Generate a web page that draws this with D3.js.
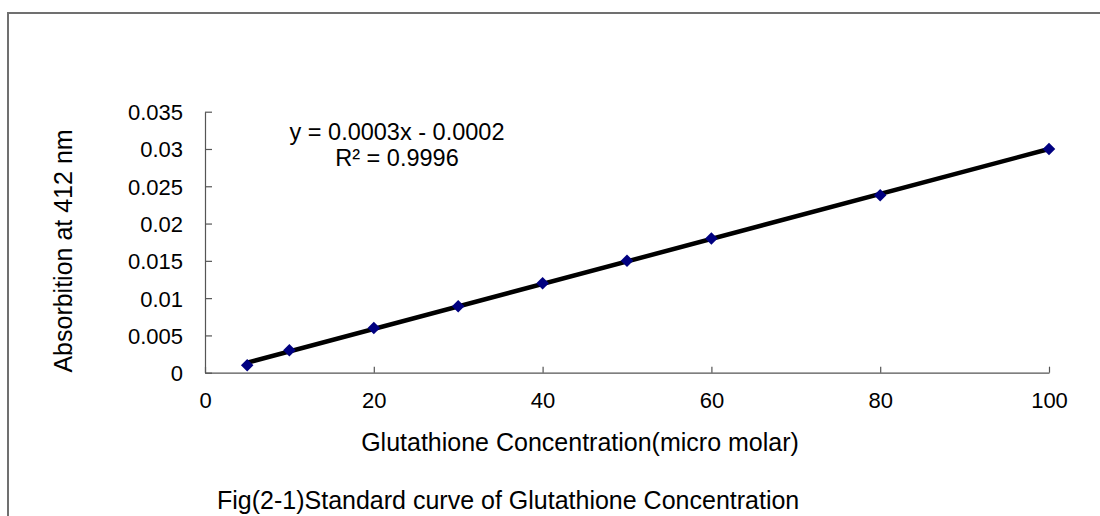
<!DOCTYPE html>
<html>
<head>
<meta charset="utf-8">
<script src="https://cdn.jsdelivr.net/npm/d3@7/dist/d3.min.js"></script>
<style>
  html, body { margin: 0; padding: 0; background: #fff; }
  svg { display: block; }
  text { font-family: "Liberation Sans", Arial, Helvetica, sans-serif; fill: #000; }
</style>
</head>
<body>
<svg id="chart" width="1100" height="516"></svg>
<script>
// ---- data ----
const concentration = [5, 10, 20, 30, 40, 50, 60, 80, 100];
const absorbance = [0.001, 0.003, 0.006, 0.0089, 0.012, 0.015, 0.018, 0.0238, 0.030];
const xTicks = [0, 20, 40, 60, 80, 100];
const yTicks = [0, 0.005, 0.01, 0.015, 0.02, 0.025, 0.03, 0.035];
const equationLines = ["y = 0.0003x - 0.0002", "R\u00b2 = 0.9996"];
const xTitle = "Glutathione Concentration(micro molar)";
const yTitle = "Absorbition at 412 nm";
const caption = "Fig(2-1)Standard curve of Glutathione Concentration";

// ---- layout ----
const svg = d3.select("#chart");
const plot = { left: 205, right: 1049, top: 111.7, bottom: 372.7 };
const x = d3.scaleLinear().domain([0, 100]).range([plot.left, plot.right]);
const y = d3.scaleLinear().domain([0, 0.035]).range([plot.bottom, plot.top]);
const tickFs = 22, titleFs = 25, eqFs = 23.5;

// outer frame (top + left edge)
svg.append("path")
  .attr("d", "M8,516 L8,13 L1100,13")
  .attr("fill", "none").attr("stroke", "#707070").attr("stroke-width", 2);

// axes
const xAxis = svg.append("g").attr("transform", `translate(0,${plot.bottom})`)
  .call(d3.axisBottom(x).tickValues(xTicks).tickSize(-6).tickSizeOuter(0).tickPadding(0).tickFormat(d3.format("d")));
const yAxis = svg.append("g").attr("transform", `translate(${plot.left},0)`)
  .call(d3.axisLeft(y).tickValues(yTicks).tickSize(-7).tickSizeOuter(0).tickPadding(0).tickFormat(d => d === 0 ? "0" : String(+d.toFixed(3))));
[xAxis, yAxis].forEach(g => {
  g.select(".domain").attr("stroke", "#555").attr("stroke-width", 1.2);
  g.selectAll(".tick line").attr("stroke", "#555").attr("stroke-width", 1.2);
  g.selectAll(".tick text").attr("font-size", tickFs).attr("fill", "#000")
    .attr("font-family", '"Liberation Sans", Arial, sans-serif');
});
xAxis.selectAll(".tick text").attr("y", 35.5).attr("dy", null);
yAxis.selectAll(".tick text").attr("x", -22).attr("dy", "0.36em");

// trend line (least squares fit)
const n = concentration.length;
const mx = d3.mean(concentration), my = d3.mean(absorbance);
let sxy = 0, sxx = 0;
for (let i = 0; i < n; i++) {
  sxy += (concentration[i] - mx) * (absorbance[i] - my);
  sxx += (concentration[i] - mx) ** 2;
}
const slope = sxy / sxx, intercept = my - slope * mx;
const xExt = d3.extent(concentration);
svg.append("line")
  .attr("x1", x(xExt[0])).attr("y1", y(slope * xExt[0] + intercept))
  .attr("x2", x(xExt[1])).attr("y2", y(slope * xExt[1] + intercept))
  .attr("stroke", "#000").attr("stroke-width", 4.5);

// markers (diamonds)
const diamond = d3.symbol().type(d3.symbolDiamond2).size(100);
svg.append("g").selectAll("path")
  .data(concentration.map((c, i) => [c, absorbance[i]]))
  .join("path")
  .attr("d", diamond)
  .attr("transform", d => `translate(${x(d[0])},${y(d[1])})`)
  .attr("fill", "#000080");

// equation (two separate lines)
equationLines.forEach((t, i) => {
  svg.append("text").attr("x", 397).attr("y", 140 + i * 25.5)
    .attr("text-anchor", "middle").attr("font-size", eqFs).text(t);
});

// titles
svg.append("text").attr("x", 580).attr("y", 451).attr("text-anchor", "middle")
  .attr("font-size", titleFs).text(xTitle);
svg.append("text").attr("transform", "translate(72,251) rotate(-90)")
  .attr("text-anchor", "middle").attr("font-size", titleFs).text(yTitle);
svg.append("text").attr("x", 217).attr("y", 509).attr("font-size", titleFs).text(caption);
</script>
</body>
</html>
